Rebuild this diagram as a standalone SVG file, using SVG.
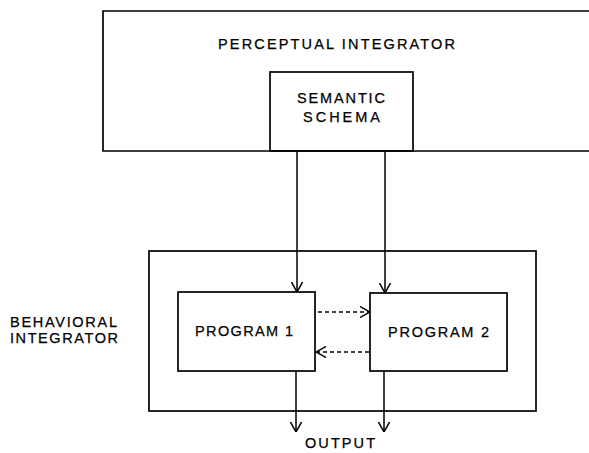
<svg xmlns="http://www.w3.org/2000/svg" width="589" height="453" viewBox="0 0 589 453">
<style>
.box{fill:none;stroke:#000;stroke-width:1.7}
.lbl{font-family:"Liberation Sans",Arial,sans-serif;font-size:14.5px;fill:#000;stroke:#000;stroke-width:0.25}
.c{stroke:#000;stroke-width:1.5;fill:none}
.d{stroke-dasharray:4,3}
</style>
<defs>
<marker id="ah" viewBox="0 0 10 12" refX="10" refY="6" markerWidth="10" markerHeight="12" markerUnits="userSpaceOnUse" orient="auto">
<path d="M0,0.5 L10,6 L0,11.5" fill="none" stroke="#000" stroke-width="1.5"/>
</marker>
</defs>
<g id="perceptual-integrator">
<path class="box" d="M589,11 L103,11 L103,151 L589,151"/>
<text class="lbl" x="218" y="49" textLength="237" lengthAdjust="spacing">PERCEPTUAL INTEGRATOR</text>
</g>
<g id="semantic-schema">
<rect class="box" x="270" y="72" width="143" height="79" fill="#fff"/>
<text class="lbl" x="297" y="103" textLength="88" lengthAdjust="spacing">SEMANTIC</text>
<text class="lbl" x="303" y="122" textLength="77" lengthAdjust="spacing">SCHEMA</text>
</g>
<g id="behavioral-integrator">
<rect class="box" x="149" y="251" width="387" height="160"/>
<text class="lbl" x="10" y="327" textLength="107" lengthAdjust="spacing">BEHAVIORAL</text>
<text class="lbl" x="10" y="343" textLength="108" lengthAdjust="spacing">INTEGRATOR</text>
</g>
<g id="program-1">
<rect class="box" x="178" y="292" width="137" height="79"/>
<text class="lbl" x="195" y="336" textLength="98" lengthAdjust="spacing">PROGRAM 1</text>
</g>
<g id="program-2">
<rect class="box" x="370" y="293" width="137" height="78"/>
<text class="lbl" x="388" y="337" textLength="101" lengthAdjust="spacing">PROGRAM 2</text>
</g>
<g id="output">
<text class="lbl" x="305" y="448" font-size="13.5" textLength="70" lengthAdjust="spacing">OUTPUT</text>
</g>
<g id="connectors">
<line class="c" x1="297" y1="151" x2="297" y2="292" marker-end="url(#ah)"/>
<line class="c" x1="385" y1="151" x2="385" y2="293" marker-end="url(#ah)"/>
<line class="c d" x1="318" y1="312" x2="370" y2="312" marker-end="url(#ah)"/>
<line class="c d" x1="369" y1="352" x2="316" y2="352" marker-end="url(#ah)"/>
<line class="c" x1="296" y1="371" x2="296" y2="432" marker-end="url(#ah)"/>
<line class="c" x1="384" y1="371" x2="384" y2="432" marker-end="url(#ah)"/>
</g>
</svg>
